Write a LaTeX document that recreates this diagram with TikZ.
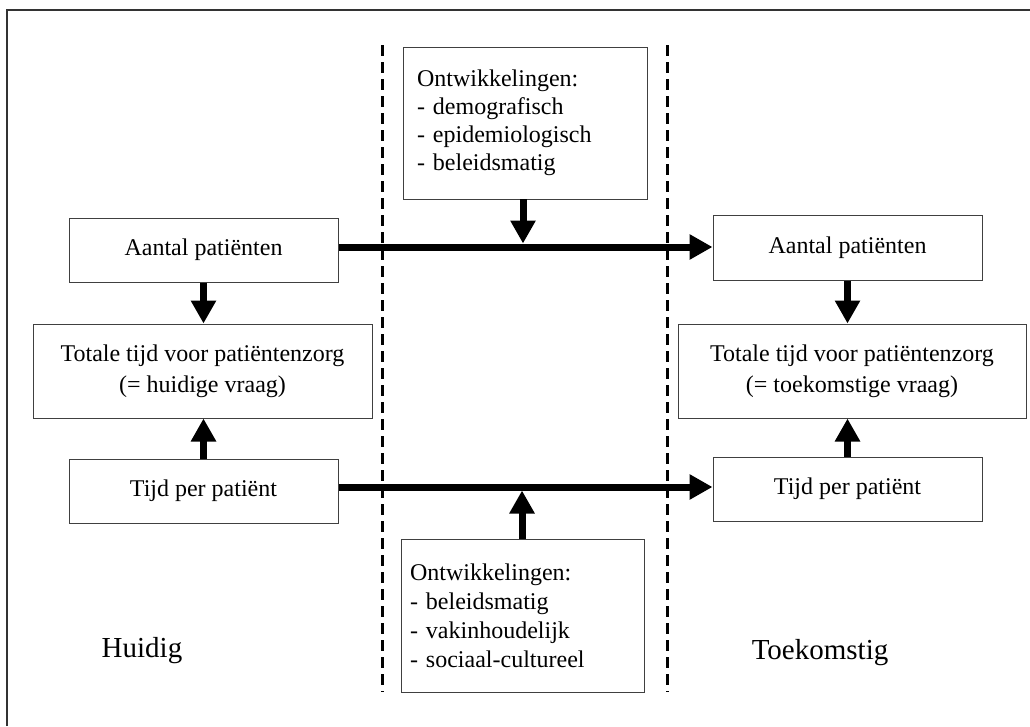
\documentclass[tikz,border=0pt]{standalone}
\usepackage{fontspec}
\setmainfont{Liberation Serif}
\usetikzlibrary{arrows.meta,calc}
\begin{document}
\begin{tikzpicture}[x=1pt,y=-1pt,
  box/.style={draw=black!75, line width=1pt, fill=white, inner sep=0pt,
    font=\fontsize{24}{31}\selectfont, align=center},
  devbox/.style={draw=black!75, line width=1pt, fill=white, inner ysep=0pt,
    align=left, anchor=center},
  thick arrow/.style={line width=7pt, -{Triangle[length=23pt,width=24pt]}},
  dashline/.style={line width=3pt, dash pattern=on 11pt off 6pt},
  frameline/.style={line width=2pt, draw=black!80},
  label/.style={font=\fontsize{29}{33}\selectfont, inner sep=0pt}
]
\useasboundingbox (0,0) rectangle (1030,726);
\draw[frameline] (7,726) -- (7,10) -- (1030,10);

% dashed separators
\coordinate (l1) at (382,45);
\coordinate (l2) at (382,692);
\coordinate (r1) at (667,45);
\coordinate (r2) at (667,692);
\draw[dashline] (l1) -- (l2);
\draw[dashline] (r1) -- (r2);

% left column
\node[box, minimum width=269pt, minimum height=64pt] (aL) at (203.5,250) {Aantal patiënten};
\node[box, minimum width=339pt, minimum height=94pt] (tL) at (202.5,371) {Totale tijd voor patiëntenzorg\\(= huidige vraag)};
\node[box, minimum width=269pt, minimum height=64pt] (pL) at (203.5,491) {Tijd per patiënt};

% right column
\node[box, minimum width=269pt, minimum height=65pt] (aR) at (847.5,247.5) {Aantal patiënten};
\node[box, minimum width=348pt, minimum height=94pt] (tR) at (852,371) {Totale tijd voor patiëntenzorg\\(= toekomstige vraag)};
\node[box, minimum width=269pt, minimum height=64pt] (pR) at (847.5,489) {Tijd per patiënt};

% developments
\node[devbox, font=\fontsize{24}{28}\selectfont, text width=216pt, inner xsep=14pt,
  minimum height=152pt] (d1) at (525,123)
  {Ontwikkelingen:\\- demografisch\\- epidemiologisch\\- beleidsmatig};
\node[devbox, font=\fontsize{24}{29}\selectfont, text width=225pt, inner xsep=9pt,
  minimum height=153pt] (d2) at (522.5,615.5)
  {Ontwikkelingen:\\- beleidsmatig\\- vakinhoudelijk\\- sociaal-cultureel};

% labels
\node[label] (hu) at (142,651) {Huidig};
\node[label] (to) at (820,653) {Toekomstig};

% arrows
\draw[thick arrow] (aL.south) -- (aL.south |- tL.north);
\draw[thick arrow] (pL.north) -- (pL.north |- tL.south);
\draw[thick arrow] (aR.south) -- (aR.south |- tR.north);
\draw[thick arrow] (pR.north) -- (pR.north |- tR.south);

\draw[thick arrow] (aL.east |- 0,247) -- (aR.west |- 0,247);
\draw[thick arrow] (pL.east |- 0,487) -- (pR.west |- 0,487);

\draw[thick arrow, shorten >=3.5pt] (523,199) -- (523,247);
\draw[thick arrow, shorten >=3.5pt] (522,539) -- (522,487);
\end{tikzpicture}
\end{document}
